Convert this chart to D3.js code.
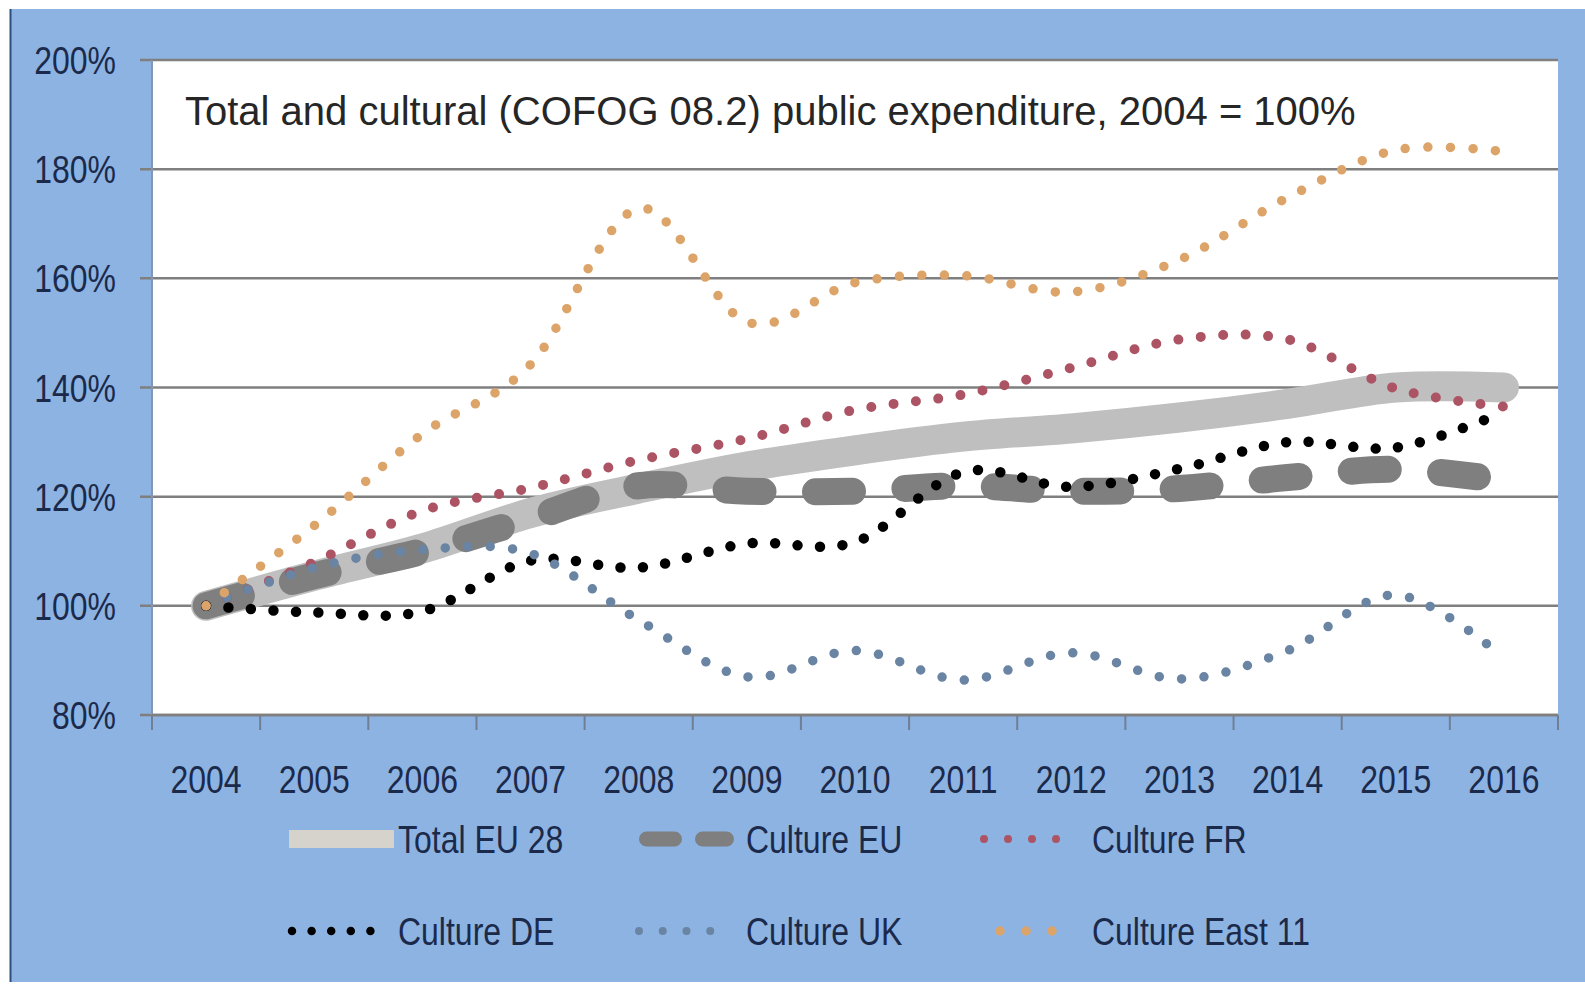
<!DOCTYPE html>
<html>
<head>
<meta charset="utf-8">
<script src="https://d3js.org/d3.v7.min.js"></script>
<style>
	html, body { margin: 0; padding: 0; background: #fff; }
	svg { display: block; }
	.lbl { font-family: 'Liberation Sans', Arial, sans-serif; font-size: 39px; fill: #1b2a4a; }
	.title { font-family: 'Liberation Sans', Arial, sans-serif; font-size: 40px; fill: #262626; }
</style>
</head>
<body>
<div id="chart"></div>
<script>

	// values, 2004 = 100
	var years = [2004, 2005, 2006, 2007, 2008, 2009, 2010, 2011, 2012, 2013, 2014, 2015, 2016];
	var totalEU28 = [100, 105.5, 110.5, 117, 121.5, 125.5, 128.5, 131, 132.5, 134.5, 137, 140, 140];
	var cultureEU = [100, 105.5, 110, 116, 122, 121, 121, 122, 121, 121.5, 123.5, 125, 123];
	var cultureFR = [100, 108, 117.4, 121.6, 126.7, 130.6, 135.9, 138.7, 143.6, 148.8, 148.8, 139.8, 136.5];
	var cultureDE = [100, 98.8, 99, 108.3, 107, 111.4, 111.7, 124.5, 121.8, 125.1, 130, 129, 135.5];
	var cultureUK = [100, 107, 110.3, 109.6, 97.4, 87, 91.8, 86.4, 91.4, 86.6, 91.8, 102, 90.5];
	var cultureEast11 = [100, 114.7, 131.5, 144.2, 172.8, 152, 159.2, 160.5, 157.5, 163.4, 174.8, 183.5, 183.2];
	var yTicks = [80, 100, 120, 140, 160, 180, 200];

	var titleText = "Total and cultural (COFOG 08.2) public expenditure, 2004 = 100%";

	var series = [
		{name: "Total EU 28", values: totalEU28, color: "#bfbfbf", width: 30, dash: null},
		{name: "Culture EU", values: cultureEU, color: "#7f7f7f", width: 27, dash: "37 52.5"},
		{name: "Culture FR", values: cultureFR, color: "#ac5464", width: 10, dash: "0 22.5"},
		{name: "Culture DE", values: cultureDE, color: "#000000", width: 10.5, dash: "0 22.5"},
		{name: "Culture UK", values: cultureUK, color: "#6a84a4", width: 9.5, dash: "0 22.5"},
		{name: "Culture East 11", values: cultureEast11, color: "#dca468", width: 9.5, dash: "0 22.5"}
	];

	var width = 1585, height = 994;
	var plot = {left: 152, right: 1558, top: 60, bottom: 715};
	var squeeze = 0.82;   // the chart text is narrow, so squeeze it horizontally

	var svg = d3.select("#chart").append("svg")
		.attr("width", width)
		.attr("height", height);

	function narrowText(g, px, py, str, anchor){
		return g.append("text")
			.attr("class", "lbl")
			.attr("transform", "translate(" + px + "," + py + ") scale(" + squeeze + ",1)")
			.attr("text-anchor", anchor)
			.text(str);
	}

	// blue chart area
	svg.append("rect")
		.attr("x", 10).attr("y", 9)
		.attr("width", width - 10).attr("height", 973)
		.attr("fill", "#8db3e2");
	svg.append("line")
		.attr("x1", 10.5).attr("x2", 10.5).attr("y1", 9).attr("y2", 982)
		.attr("stroke", "#2d4f80").attr("stroke-width", 2);

	var x = d3.scaleBand().domain(years).range([plot.left, plot.right]);
	var y = d3.scaleLinear().domain([80, 200]).range([plot.bottom, plot.top]);
	var cx = function(d){ return x(d) + x.bandwidth() / 2; };

	svg.append("rect")
		.attr("x", plot.left).attr("y", plot.top)
		.attr("width", plot.right - plot.left).attr("height", plot.bottom - plot.top)
		.attr("fill", "#fff");

	// gridlines with the outside tick stub
	svg.append("g").selectAll("line")
		.data(yTicks)
		.enter().append("line")
		.attr("x1", plot.left - 12).attr("x2", plot.right)
		.attr("y1", function(d){ return y(d); })
		.attr("y2", function(d){ return y(d); })
		.attr("stroke", "#7f7f7f")
		.attr("stroke-width", 2.5);

	svg.append("line")
		.attr("x1", plot.left).attr("x2", plot.left)
		.attr("y1", plot.top).attr("y2", plot.bottom)
		.attr("stroke", "#8497b0").attr("stroke-width", 2);

	// y labels
	var yLab = svg.append("g");
	yTicks.forEach(function(t){
		narrowText(yLab, 116, y(t) + 14, t + "%", "end");
	});

	// x axis: ticks between categories, labels centred
	var edges = years.map(function(d){ return x(d); }).concat([plot.right]);
	svg.append("g").selectAll("line")
		.data(edges)
		.enter().append("line")
		.attr("x1", function(d){ return d; }).attr("x2", function(d){ return d; })
		.attr("y1", plot.bottom).attr("y2", plot.bottom + 15)
		.attr("stroke", "#6f7f95").attr("stroke-width", 2);
	svg.append("line")
		.attr("x1", plot.left).attr("x2", plot.right)
		.attr("y1", plot.bottom).attr("y2", plot.bottom)
		.attr("stroke", "#7f7f7f").attr("stroke-width", 2.5);
	var xLab = svg.append("g");
	years.forEach(function(d){
		narrowText(xLab, cx(d), 793, String(d), "middle");
	});

	// title
	svg.append("text")
		.attr("class", "title")
		.attr("x", 185).attr("y", 125)
		.text(titleText);

	// lines
	var line = d3.line()
		.x(function(d, i){ return cx(years[i]); })
		.y(function(d){ return y(d); })
		.curve(d3.curveCatmullRom.alpha(0));

	svg.append("g").selectAll("path")
		.data(series)
		.enter().append("path")
		.attr("d", function(s){ return line(s.values); })
		.attr("fill", "none")
		.attr("stroke", function(s){ return s.color; })
		.attr("stroke-width", function(s){ return s.width; })
		.attr("stroke-linecap", "round")
		.attr("stroke-linejoin", "round")
		.attr("stroke-dasharray", function(s){ return s.dash; });

	// legend
	var legendItems = [
		{s: series[0], x1: 289, x2: 394, row: 0, w: 18, dash: null, cap: "butt", color: "#d6d3cc"},
		{s: series[1], x1: 646.5, x2: 726.5, row: 0, w: 15, dash: "28 28", cap: "round"},
		{s: series[2], x1: 984, x2: 1080, row: 0, w: 8, dash: "0 24", cap: "round"},
		{s: series[3], x1: 292, x2: 390, row: 1, w: 8.5, dash: "0 19.6", cap: "round"},
		{s: series[4], x1: 639, x2: 734, row: 1, w: 8, dash: "0 23.75", cap: "round"},
		{s: series[5], x1: 1000, x2: 1078, row: 1, w: 9.5, dash: "0 26", cap: "round"}
	];
	var textX = [398, 746, 1092];
	var rowBase = [853, 945];

	var lg = svg.append("g");
	legendItems.forEach(function(d, i){
		lg.append("line")
			.attr("x1", d.x1).attr("x2", d.x2)
			.attr("y1", rowBase[d.row] - 14).attr("y2", rowBase[d.row] - 14)
			.attr("stroke", d.color || d.s.color)
			.attr("stroke-width", d.w)
			.attr("stroke-linecap", d.cap)
			.attr("stroke-dasharray", d.dash);
		narrowText(lg, textX[i % 3], rowBase[d.row], d.s.name, "start");
	});

</script>
</body>
</html>
